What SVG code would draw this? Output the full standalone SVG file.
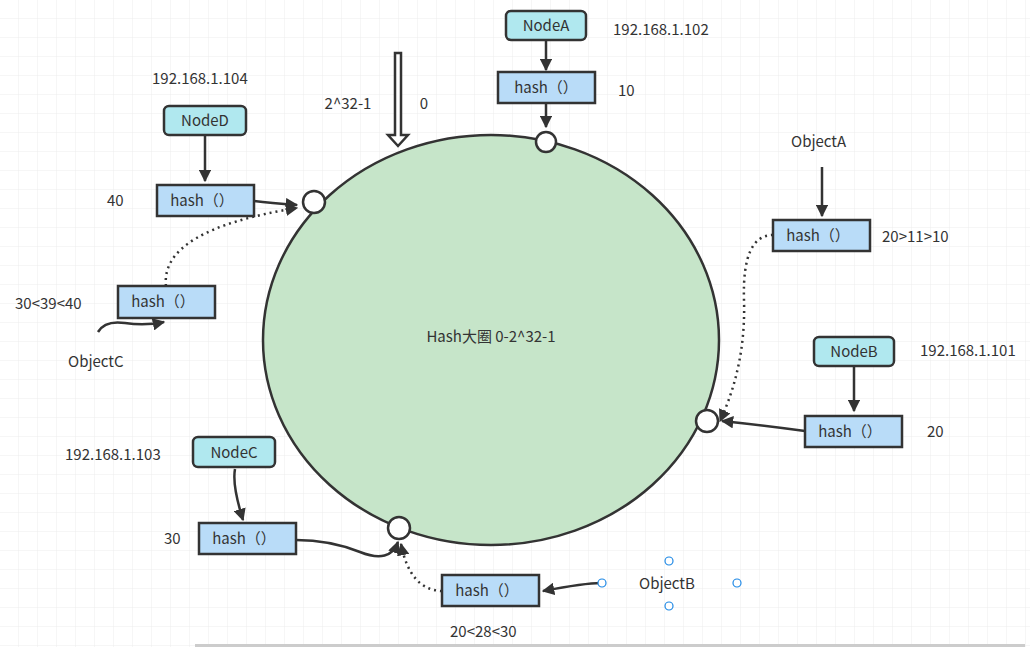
<svg xmlns="http://www.w3.org/2000/svg" width="1030" height="647" viewBox="0 0 1030 647">
<defs>
<pattern id="g" width="19" height="19" patternUnits="userSpaceOnUse"><path d="M19 0V19H0" fill="none" stroke="#ececec" stroke-width="1"/></pattern>
<marker id="a" viewBox="0 0 10 10" refX="9" refY="5" markerWidth="5" markerHeight="5" orient="auto"><path d="M0 0L10 5L0 10z" fill="#333"/></marker>
<style>
text{font-family:"Microsoft YaHei","Noto Sans CJK SC","Liberation Sans",sans-serif;font-size:15px;fill:#333}
.n rect{fill:#b0e8ef;stroke:#333;stroke-width:2.5}
.h rect{fill:#b9dcf8;stroke:#333;stroke-width:2.5}
.c path{fill:none;stroke:#333;stroke-width:2.5}
.d{stroke-dasharray:2 4}
.p{fill:#fff;stroke:#333;stroke-width:2.5}
.b{fill:#fff;stroke:#1e88e5;stroke-width:1.2}
</style>
</defs>
<rect width="1030" height="647" fill="#fff"/>
<rect width="1030" height="647" fill="url(#g)"/>
<rect x="195" y="644" width="830" height="3" fill="#ccc"/>
<g id="ring"><ellipse cx="491" cy="340" rx="228" ry="205" fill="#c6e5c9" stroke="#333" stroke-width="2.5"/>
<text x="491" y="342" text-anchor="middle">Hash大圈 0-2^32-1</text></g>
<g id="start"><path d="M395 53H401V135H408L398 146L388 135H395Z" fill="#fff" stroke="#333" stroke-width="2.5"/>
<text x="348" y="109" text-anchor="middle">2^32-1</text><text x="424" y="109" text-anchor="middle">0</text></g>
<g class="c" id="connectors">
<path d="M546 39V70" marker-end="url(#a)"/>
<path d="M546 103V127" marker-end="url(#a)"/>
<path d="M205 136V181" marker-end="url(#a)"/>
<path d="M254 201Q270 203 297 205" marker-end="url(#a)"/>
<path class="d" d="M166 286Q160 230 297 208" marker-end="url(#a)"/>
<path d="M98 332Q105 320 125 323T164 322" marker-end="url(#a)"/>
<path d="M822 167V216" marker-end="url(#a)"/>
<path class="d" d="M773 235Q742 235 744 300T720 421" marker-end="url(#a)"/>
<path d="M854 366V411" marker-end="url(#a)"/>
<path d="M805 431Q760 425 722 421" marker-end="url(#a)"/>
<path d="M235 469Q232 485 243 520" marker-end="url(#a)"/>
<path d="M296 540Q330 540 360 552T398 542" marker-end="url(#a)"/>
<path class="d" d="M442 591Q410 590 401 544" marker-end="url(#a)"/>
<path d="M601 583Q585 583 543 591" marker-end="url(#a)"/>
</g>
<g id="pA"><circle class="p" cx="546" cy="142" r="10"/></g>
<g id="pD"><circle class="p" cx="314" cy="202" r="11"/></g>
<g id="pB"><circle class="p" cx="707" cy="421" r="11"/></g>
<g id="pC"><circle class="p" cx="399" cy="528" r="11"/></g>
<g id="NodeA" class="n"><rect x="506" y="11" width="80" height="29" rx="5"/><text x="546" y="31" text-anchor="middle">NodeA</text></g>
<g id="hashA" class="h"><rect x="498" y="72" width="97" height="31"/><text x="546" y="93" text-anchor="middle">hash（）</text></g>
<text x="613" y="35">192.168.1.102</text><text x="618" y="96">10</text>
<g id="NodeD" class="n"><rect x="164" y="106" width="82" height="29" rx="5"/><text x="205" y="126" text-anchor="middle">NodeD</text></g>
<g id="hashD" class="h"><rect x="157" y="185" width="97" height="31"/><text x="202" y="206" text-anchor="middle">hash（）</text></g>
<text x="152" y="84">192.168.1.104</text><text x="107" y="206">40</text>
<g id="hashC2" class="h"><rect x="118" y="286" width="97" height="32"/><text x="163" y="307" text-anchor="middle">hash（）</text></g>
<text x="15" y="309">30&lt;39&lt;40</text><text x="68" y="367">ObjectC</text>
<g id="hashOA" class="h"><rect x="773" y="220" width="97" height="31"/><text x="818" y="241" text-anchor="middle">hash（）</text></g>
<text x="791" y="147">ObjectA</text><text x="882" y="242">20&gt;11&gt;10</text>
<g id="NodeB" class="n"><rect x="814" y="337" width="80" height="29" rx="5"/><text x="854" y="357" text-anchor="middle">NodeB</text></g>
<g id="hashB" class="h"><rect x="805" y="416" width="97" height="31"/><text x="850" y="437" text-anchor="middle">hash（）</text></g>
<text x="920" y="356">192.168.1.101</text><text x="927" y="437">20</text>
<g id="NodeC" class="n"><rect x="193" y="437" width="82" height="30" rx="5"/><text x="234" y="458" text-anchor="middle">NodeC</text></g>
<g id="hashC" class="h"><rect x="199" y="523" width="97" height="31"/><text x="244" y="544" text-anchor="middle">hash（）</text></g>
<text x="65" y="460">192.168.1.103</text><text x="164" y="544">30</text>
<g id="hashOB" class="h"><rect x="442" y="575" width="97" height="31"/><text x="487" y="596" text-anchor="middle">hash（）</text></g>
<text x="450" y="637">20&lt;28&lt;30</text>
<g id="ObjectB"><text x="639" y="589">ObjectB</text>
<circle class="b" cx="602" cy="583" r="4"/><circle class="b" cx="737" cy="583" r="4"/><circle class="b" cx="669" cy="561" r="4"/><circle class="b" cx="669" cy="606" r="4"/></g>
</svg>
